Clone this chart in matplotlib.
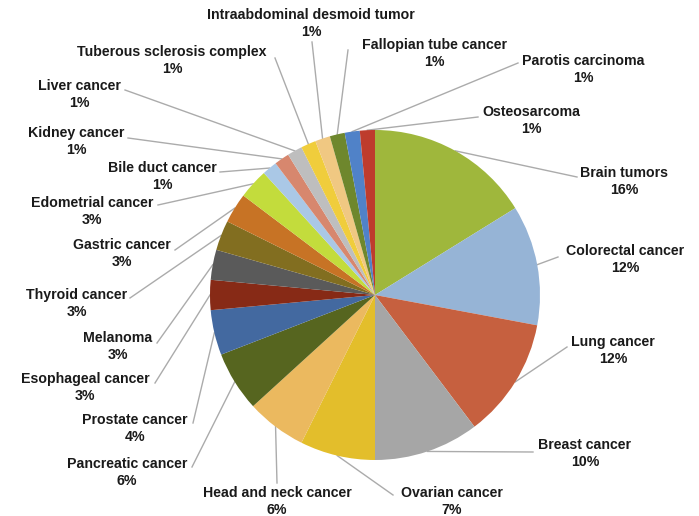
import numpy as np
import matplotlib
matplotlib.use("Agg")
import matplotlib.pyplot as plt

# Datos: número de casos por tipo de tumor (en el orden del gráfico, sentido horario)
tumores = ["Brain tumors", "Colorectal cancer", "Lung cancer", "Breast cancer",
           "Ovarian cancer", "Head and neck cancer", "Pancreatic cancer",
           "Prostate cancer", "Esophageal cancer", "Melanoma", "Thyroid cancer",
           "Gastric cancer", "Edometrial cancer", "Bile duct cancer",
           "Kidney cancer", "Liver cancer", "Tuberous sclerosis complex",
           "Intraabdominal desmoid tumor", "Fallopian tube cancer",
           "Parotis carcinoma", "Osteosarcoma"]
casos = [11, 8, 8, 7, 5, 4, 4, 3, 2, 2, 2, 2, 2, 1, 1, 1, 1, 1, 1, 1, 1]
colores = ["#9FB73C", "#96B4D6", "#C6603F", "#A6A6A6", "#E3BE2B", "#EBB95F",
           "#56651F", "#4369A0", "#872A16", "#5A5A5A", "#826E20", "#C77325",
           "#C3DC3C", "#AAC8E6", "#D7876E", "#BEBEBE", "#F0CD3C", "#F0C882",
           "#6E872D", "#5082C8", "#BE3C2D"]

# Posición de cada etiqueta (centro de la primera línea) y fin de la línea guía, en píxeles
etiqueta_xy = [(624, 173), (625, 251), (613, 342), (585, 445), (452, 493),
               (277, 493), (127, 464), (135, 420), (85, 379), (118, 338),
               (77, 295), (122, 245), (92, 203), (162, 168), (76, 133),
               (79, 86), (172, 52), (311, 15), (434, 45), (583, 61), (531, 112)]
guia_xy = [(577, 177), (558, 257), (567, 347), (533, 452), (393, 495),
           (277, 483), (192, 467), (193, 423), (155, 383), (157, 343),
           (130, 298), (175, 250), (158, 205), (220, 172), (128, 138),
           (125, 90), (275, 58), (312, 42), (348, 50), (518, 63), (478, 117)]

W, H = 699, 516
CENTRO = (375, H - 295)
RADIO = 165

fig = plt.figure(figsize=(W / 100, H / 100), dpi=100)
ax = fig.add_axes([0, 0, 1, 1])

wedges, _ = ax.pie(casos, colors=colores, startangle=90, counterclock=False,
                   center=CENTRO, radius=RADIO, wedgeprops=dict(linewidth=0))

total = sum(casos)
for w, nombre, n, (tx, ty), (gx, gy) in zip(wedges, tumores, casos, etiqueta_xy, guia_xy):
    # punto de anclaje en el borde de la porción
    ang = np.deg2rad((w.theta1 + w.theta2) / 2)
    ax_ = CENTRO[0] + RADIO * np.cos(ang)
    ay_ = CENTRO[1] + RADIO * np.sin(ang)
    ax.plot([ax_, gx], [ay_, H - gy], color="#ABABAB", lw=1.0, zorder=0)
    pct = f"{round(100 * n / total)}%"
    ax.text(tx, H - ty, nombre, ha="center", va="center", fontsize=10.2,
            fontweight="bold", family="Liberation Sans", color="#1A1A1A")
    ax.text(tx, H - ty - 17, pct, ha="center", va="center", fontsize=10.2,
            fontweight="bold", family="Liberation Sans", color="#1A1A1A")

ax.set_xlim(0, W)
ax.set_ylim(0, H)
ax.set_aspect("equal")
ax.axis("off")

fig.savefig("out.png", dpi=100)
